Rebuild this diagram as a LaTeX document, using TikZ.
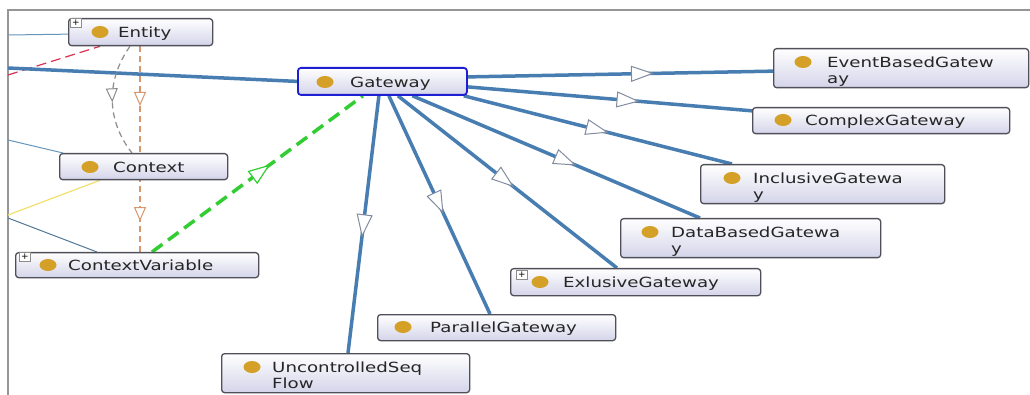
\documentclass[tikz,border=0pt]{standalone}
\usepackage{fontspec}
\setmainfont{DejaVu Sans}
\usetikzlibrary{arrows.meta,decorations.markings,calc,shapes.geometric}
\definecolor{edgeblue}{RGB}{72,125,178}
\definecolor{tricol}{RGB}{130,140,160}
\definecolor{nodebot}{RGB}{212,212,234}
\definecolor{nodeborder}{RGB}{80,80,90}
\definecolor{gwborder}{RGB}{30,30,210}
\definecolor{dotcol}{RGB}{212,160,40}
\definecolor{greenl}{RGB}{50,205,50}
\definecolor{redl}{RGB}{215,50,80}
\definecolor{yellowl}{RGB}{240,225,110}
\definecolor{grayl}{RGB}{140,140,140}
\definecolor{orangel}{RGB}{215,150,110}
\definecolor{thinblue}{RGB}{100,150,190}
\definecolor{framecol}{RGB}{150,150,150}
\pgfdeclarelayer{background}
\pgfsetlayers{background,main}
\tikzset{
  cls/.style={draw=nodeborder, line width=1.3pt, rounded corners=3pt,
    top color=white, bottom color=nodebot, anchor=north west, inner sep=0pt},
  gwcls/.style={cls, draw=gwborder, line width=1.8pt},
  dot/.style={ellipse, fill=dotcol, minimum width=17pt, minimum height=12pt, inner sep=0pt},
  lbl/.style={anchor=base west, inner sep=0pt, font=\fontsize{14}{16}\selectfont, text=black!85},
  plusbox/.style={draw=grayl, fill=white, minimum width=11pt, minimum height=9pt, inner sep=0pt,
    font=\fontsize{9}{9}\selectfont},
  isa/.style={draw=edgeblue, line width=3.5pt},
  midarrow/.style={postaction={decorate}, decoration={markings,
    mark=at position #1 with {\arrow{Triangle[length=23pt,width=16pt,fill=white,color=tricol,line width=1pt]}}}},
  greenarrow/.style={postaction={decorate}, decoration={markings,
    mark=at position #1 with {\arrow{Triangle[length=22pt,width=16pt,fill=white,color=greenl,line width=1.2pt]}}}},
  grayarrow/.style={postaction={decorate}, decoration={markings,
    mark=at position #1 with {\arrow{Triangle[length=14pt,width=12pt,fill=white,color=grayl,line width=1pt]}}}},
  twoarrows/.style={postaction={decorate}, decoration={markings,
    mark=at position 0.29 with {\arrow{Triangle[length=14pt,width=12pt,fill=white,color=orangel,line width=1pt]}},
    mark=at position 0.85 with {\arrow{Triangle[length=14pt,width=12pt,fill=white,color=orangel,line width=1pt]}}}},
}
\newcommand{\xs}[1]{\scalebox{1.3}[1]{#1}}
\newcommand{\twol}[2]{\xs{\begin{tabular}[t]{@{}l@{}}#1\\#2\end{tabular}}}
\begin{document}
\begin{tikzpicture}[x=1pt,y=-1pt]
\useasboundingbox (0,0) rectangle (1030,395);
\begin{pgfonlayer}{background}
\fill[white] (0,0) rectangle (1030,395);
\draw[framecol, line width=1.5pt] (8,395) -- (8,10) -- (1030,10);
\end{pgfonlayer}

% node boxes
\node[cls, minimum width=144pt, minimum height=27pt] (entity) at (68,18) {};
\node[gwcls, minimum width=169pt, minimum height=27pt] (gw) at (297,67) {};
\node[cls, minimum width=255pt, minimum height=39pt] (eb) at (773,48) {};
\node[cls, minimum width=257pt, minimum height=26pt] (cx) at (752,107) {};
\node[cls, minimum width=244pt, minimum height=39pt] (inc) at (700,164) {};
\node[cls, minimum width=260pt, minimum height=39pt] (db) at (620,218) {};
\node[cls, minimum width=250pt, minimum height=27pt] (ex) at (510,268) {};
\node[cls, minimum width=238pt, minimum height=26pt] (par) at (377,314) {};
\node[cls, minimum width=248pt, minimum height=39pt] (unc) at (221,353) {};
\node[cls, minimum width=168pt, minimum height=26pt] (ctx) at (59,153) {};
\node[cls, minimum width=243pt, minimum height=25pt] (cv) at (15,252) {};

% free ends at the left frame
\coordinate (l1) at (8,35);
\coordinate (l2) at (8,75);
\coordinate (l3) at (8,68);
\coordinate (l4) at (8,140);
\coordinate (l5) at (8,215);
\coordinate (l6) at (8,218);

% connectors behind the boxes
\begin{pgfonlayer}{background}
\path[draw=thinblue, line width=1pt] (l1) -- ($(entity.west)+(0,2)$);
\path[draw=redl, line width=1.2pt, dash pattern=on 10pt off 5pt] (l2) -- ($(entity.south west)+(32,0)$);
\path[draw=thinblue, line width=1pt] (l4) -- ($(ctx.north west)+(4,0)$);
\path[draw=yellowl, line width=1.2pt] (l5) -- ($(ctx.south west)+(41,0)$);
\path[draw=thinblue!80!black, line width=1pt] (l6) -- ($(cv.north west)+(82,0)$);
\path[isa] (l3) -- (gw.west);

\path[draw=grayl, line width=1.2pt, dash pattern=on 6pt off 4pt, grayarrow=0.52]
  ($(entity.south west)+(62,0)$) .. controls (106,80) and (106,120) .. ($(ctx.north west)+(73,0)$);
\path[draw=orangel, line width=1.2pt, dash pattern=on 6pt off 4pt, twoarrows]
  ($(entity.south west)+(72,0)$) -- ($(cv.north west)+(125,0)$);
\path[draw=greenl, line width=3.5pt, dash pattern=on 13pt off 7pt, greenarrow=0.56]
  ($(cv.north west)+(137,0)$) -- ($(gw.south)+(-19.5,0)$);

\path[isa, midarrow=0.61] ($(gw.east)+(0,-4.5)$) -- ($(eb.west)+(0,3)$);
\path[isa, midarrow=0.6] ($(gw.east)+(0,5.5)$) -- ($(cx.north west)+(2,4)$);
\path[isa, midarrow=0.54] ($(gw.south east)+(-4,0)$) -- ($(inc.north west)+(32,0)$);
\path[isa, midarrow=0.57] ($(gw.south)+(30,0)$) -- ($(db.north west)+(80,0)$);
\path[isa, midarrow=0.53] ($(gw.south)+(15.5,0)$) -- ($(ex.north west)+(107,0)$);
\path[isa, midarrow=0.54] ($(gw.south)+(6.5,0)$) -- ($(par.north west)+(113,0)$);
\path[isa, midarrow=0.55] ($(gw.south)+(-3.5,0)$) -- ($(unc.north west)+(127,0)$);
\end{pgfonlayer}

% dots
\node[dot] (entity-dot) at (100,32) {};
\node[dot] (gw-dot) at (325,82) {};
\node[dot] (eb-dot) at (803,62) {};
\node[dot] (cx-dot) at (783,120) {};
\node[dot] (inc-dot) at (732,178) {};
\node[dot] (db-dot) at (650,232) {};
\node[dot] (ex-dot) at (540,282) {};
\node[dot] (par-dot) at (403,327) {};
\node[dot] (unc-dot) at (252,367) {};
\node[dot] (ctx-dot) at (90,167) {};
\node[dot] (cv-dot) at (48,265) {};

% plus boxes
\node[plusbox] (entity-plus) at (76,23) {+};
\node[plusbox] (ex-plus) at (522,275) {+};
\node[plusbox] (cv-plus) at (25,257) {+};

% labels
\node[lbl] (entity-t) at (118,37.5) {\xs{Entity}};
\node[lbl] (gw-t) at (350,87.5) {\xs{Gateway}};
\node[lbl] (eb-t) at (827,67.5) {\twol{EventBasedGatew}{ay}};
\node[lbl] (cx-t) at (805,125.5) {\xs{ComplexGateway}};
\node[lbl] (inc-t) at (753,183.5) {\twol{InclusiveGatewa}{y}};
\node[lbl] (db-t) at (671,237.5) {\twol{DataBasedGatewa}{y}};
\node[lbl] (ex-t) at (563,287.5) {\xs{ExlusiveGateway}};
\node[lbl] (par-t) at (430,332.5) {\xs{ParallelGateway}};
\node[lbl] (unc-t) at (272,372.5) {\twol{UncontrolledSeq}{Flow}};
\node[lbl] (ctx-t) at (113,172.5) {\xs{Context}};
\node[lbl] (cv-t) at (68,270.5) {\xs{ContextVariable}};
\end{tikzpicture}
\end{document}
